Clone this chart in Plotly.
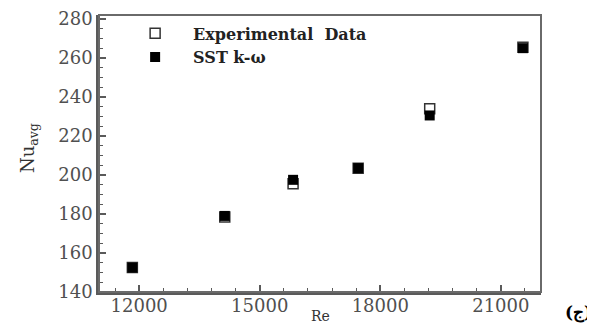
import plotly.graph_objects as go

re_vals = [11830, 14130, 15830, 17450, 19230, 21550]
nu_exp = [152.5, 178.5, 195.5, 203.5, 234.0, 265.5]
nu_sst = [152.5, 179.0, 197.5, 203.5, 230.5, 265.0]
x_ticks = [12000, 15000, 18000, 21000]
y_ticks = [140, 160, 180, 200, 220, 240, 260, 280]

FONT = "DejaVu Serif"
AX = "#5a5a5a"

fig = go.Figure()
fig.add_trace(go.Scatter(
    x=re_vals, y=nu_exp, mode="markers", name="Experimental  Data",
    marker=dict(symbol="square-open", size=10, color="#333333", line=dict(width=1.5, color="#333333")),
))
fig.add_trace(go.Scatter(
    x=re_vals, y=nu_sst, mode="markers", name="SST k-\u03c9",
    marker=dict(symbol="square", size=10, color="#000000", line=dict(width=0)),
))

fig.update_layout(
    width=587, height=318,
    margin=dict(l=91, r=54, t=7, b=34, autoexpand=False),
    paper_bgcolor="white", plot_bgcolor="white",
    font=dict(family=FONT, color="#444444"),
    showlegend=True,
    legend=dict(x=0.041, y=0.995, xanchor="left", yanchor="top",
                bgcolor="rgba(0,0,0,0)", font=dict(family=FONT, size=16, color="#222222", weight="bold"),
                tracegroupgap=0, itemwidth=66),
    xaxis=dict(range=[11000, 22000], tickvals=x_ticks, ticktext=[str(v) for v in x_ticks],
               ticks="inside", ticklen=7, tickwidth=1.5, tickcolor=AX, ticklabelstandoff=-4,
               minor=dict(dtick=600, tick0=0, ticks="inside", ticklen=4, tickcolor=AX, tickwidth=1.2),
               showline=True, linecolor=AX, linewidth=2.5, mirror=False, automargin=False,
               showgrid=False, zeroline=False,
               tickfont=dict(family=FONT, size=18, color="#505050")),
    yaxis=dict(range=[140, 282], tickvals=y_ticks, ticktext=[str(v) for v in y_ticks],
               ticks="inside", ticklen=7, tickwidth=1.5, tickcolor=AX,
               minor=dict(dtick=5, tick0=0, ticks="inside", ticklen=4, tickcolor=AX, tickwidth=1.2),
               showline=True, linecolor=AX, linewidth=2.5, mirror=False, automargin=False,
               showgrid=False, zeroline=False,
               tickfont=dict(family=FONT, size=18, color="#505050")),
    shapes=[dict(type="rect", xref="paper", yref="paper", x0=0, y0=0, x1=1, y1=1,
                 line=dict(color="#6a6a6a", width=2), layer="above")],
    annotations=[
        dict(text="Nu<sub>avg</sub>", xref="paper", yref="paper", x=-0.158, y=0.52,
             xanchor="center", yanchor="middle",
             showarrow=False, textangle=-90, font=dict(family=FONT, size=18, color="#333333")),
        dict(text="Re", xref="paper", yref="paper", x=0.5, y=-0.087, xanchor="center", yanchor="middle",
             showarrow=False, font=dict(family=FONT, size=14, color="#333333")),
        dict(text="<b>(\u062c)</b>", xref="paper", yref="paper", x=1.084, y=-0.12,
             xanchor="center", yanchor="bottom",
             showarrow=False, font=dict(family=FONT, size=17, color="#000000")),
    ],
)

fig.write_html("out.html")
